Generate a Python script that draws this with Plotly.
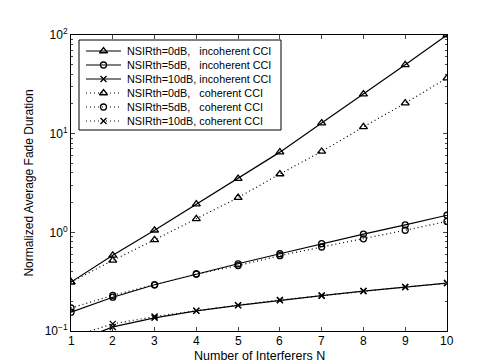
import plotly.graph_objects as go

N = [1, 2, 3, 4, 5, 6, 7, 8, 9, 10]
inc_0dB = [0.313, 0.585, 1.05, 1.93, 3.5, 6.5, 12.8, 25.2, 49.9, 100]
coh_0dB = [0.313, 0.52, 0.84, 1.37, 2.25, 3.9, 6.6, 11.7, 20.4, 36.6]
inc_5dB = [0.155, 0.22, 0.294, 0.378, 0.48, 0.607, 0.767, 0.96, 1.19, 1.49]
coh_5dB = [0.171, 0.23, 0.294, 0.378, 0.46, 0.58, 0.71, 0.86, 1.05, 1.29]
inc_10dB = [0.075, 0.11, 0.136, 0.16, 0.182, 0.205, 0.228, 0.254, 0.279, 0.306]
coh_10dB = [0.087, 0.118, 0.14, 0.161, 0.183, 0.206, 0.229, 0.254, 0.279, 0.306]
x_tick_labels = [str(n) for n in N]

sp = "\u00a0"
names = [
    "NSIRth=0dB," + sp * 3 + "incoherent CCI",
    "NSIRth=5dB," + sp * 3 + "incoherent CCI",
    "NSIRth=10dB, incoherent CCI",
    "NSIRth=0dB," + sp * 3 + "coherent CCI",
    "NSIRth=5dB," + sp * 3 + "coherent CCI",
    "NSIRth=10dB, coherent CCI",
]
series = [inc_0dB, inc_5dB, inc_10dB, coh_0dB, coh_5dB, coh_10dB]
symbols = ["triangle-up-open", "circle-open", "x-thin-open",
           "triangle-up-open", "circle-open", "x-thin-open"]
msizes = [7, 6, 6, 7, 6, 6]
dashes = ["solid", "solid", "solid", "1px,3px", "1px,3px", "1px,3px"]

fig = go.Figure()
for name, ys, sym, ms, dash in zip(names, series, symbols, msizes, dashes):
    fig.add_trace(go.Scatter(
        x=N, y=ys, name=name, mode="lines+markers", showlegend=False,
        line=dict(color="black", width=1.2, dash=dash),
        marker=dict(symbol=sym, size=ms, color="black",
                    line=dict(color="black", width=1.3)),
    ))

# hand-built legend in a hidden overlay axis (pixel-like coordinates)
L_X0, L_X1, L_Y0, L_Y1 = 71, 273, 32, 122
row_y = [43, 57, 71, 85, 99, 113]
font = "Liberation Sans, Arial, sans-serif"
annotations = []
for name, sym, ms, dash, ry in zip(names, symbols, msizes, dashes, row_y):
    fig.add_trace(go.Scatter(
        x=[78, 113], y=[ry, ry], mode="lines", showlegend=False,
        xaxis="x2", yaxis="y2", hoverinfo="skip",
        line=dict(color="black", width=1.2, dash=dash)))
    fig.add_trace(go.Scatter(
        x=[95.5], y=[ry], mode="markers", showlegend=False,
        xaxis="x2", yaxis="y2", hoverinfo="skip",
        marker=dict(symbol=sym, size=ms, color="black",
                    line=dict(color="black", width=1.3))))
    annotations.append(dict(x=117, y=ry, xref="x2", yref="y2", text=name,
                            showarrow=False, xanchor="left", yanchor="middle",
                            font=dict(size=10.8, family=font, color="black")))

# x tick labels and x title placed close under the axis, as in the reference
for n, lab in zip(N, x_tick_labels):
    annotations.append(dict(x=n, y=0, xref="x", yref="paper", text=lab,
                            showarrow=False, xanchor="center", yanchor="middle",
                            yshift=-10, font=dict(size=12, family=font, color="black")))
annotations.append(dict(x=0.5, y=0, xref="paper", yref="paper",
                        text="Number of Interferers N", showarrow=False,
                        xanchor="center", yanchor="middle", yshift=-25,
                        font=dict(size=12.5, family=font, color="black")))

fig.update_layout(
    width=485, height=364,
    margin=dict(l=63, r=46, t=27, b=41),
    paper_bgcolor="white", plot_bgcolor="white",
    font=dict(family=font, size=12, color="black"),
    showlegend=False,
    annotations=annotations,
    shapes=[dict(type="rect", xref="x2", yref="y2", x0=L_X0, x1=L_X1,
                 y0=L_Y0, y1=L_Y1, line=dict(color="black", width=1),
                 fillcolor="white", layer="below")],
    xaxis=dict(range=[1, 10], tickvals=N, ticks="inside", ticklen=4,
               showticklabels=False,
               showline=True, linecolor="black", linewidth=1, mirror="ticks",
               showgrid=False, zeroline=False),
    yaxis=dict(type="log", range=[-1, 2], tickvals=[0.1, 1, 10, 100],
               ticktext=["10<sup>−1</sup>", "10<sup>0</sup>", "10<sup>1</sup>", "10<sup>2</sup>"],
               ticks="inside", ticklen=4,
               minor=dict(ticks="inside", ticklen=2, showgrid=False,
                          tickvals=[m * 10 ** e for e in (-1, 0, 1) for m in range(2, 10)]),
               showline=True, linecolor="black", linewidth=1, mirror="ticks",
               showgrid=False, zeroline=False,
               title=dict(text="Normalized Average Fade Duration", standoff=8,
                          font=dict(size=12))),
    xaxis2=dict(overlaying="x", range=[63, 439], visible=False, fixedrange=True),
    yaxis2=dict(overlaying="y", range=[323, 27], visible=False, fixedrange=True),
)
fig.write_html("out.html")
